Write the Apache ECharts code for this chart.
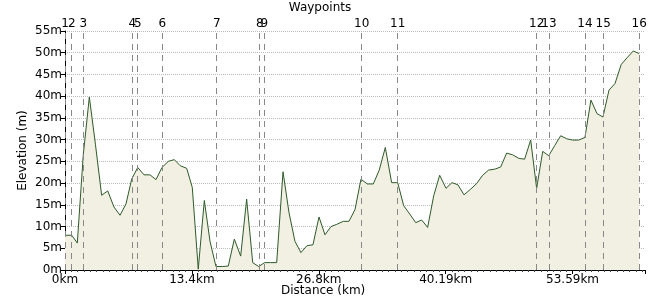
<!DOCTYPE html>
<html>
<head>
<meta charset="utf-8">
<script src="https://cdn.jsdelivr.net/npm/echarts@6/dist/echarts.min.js"></script>
<style>html,body{margin:0;padding:0;background:#fff}#c{width:650px;height:300px}</style>
</head>
<body>
<div id="c"></div>
<script>
const distanceKm = [0,0.71,1.30,1.93,2.57,3.22,3.87,4.51,5.17,5.81,6.44,7.04,7.68,8.34,8.97,9.61,10.24,10.91,11.54,12.17,12.85,13.44,14.07,14.71,15.31,15.94,16.61,17.24,17.88,18.55,19.18,19.82,20.45,21.08,21.72,22.35,23.02,23.65,24.28,24.91,25.55,26.18,26.82,27.45,28.09,28.69,29.38,29.98,30.62,31.25,31.92,32.55,33.18,33.82,34.49,35.13,35.76,36.39,37.03,37.66,38.29,38.93,39.56,40.23,40.86,41.49,42.13,42.83,43.47,44.10,44.73,45.37,46.00,46.63,47.27,47.90,48.53,49.17,49.80,50.44,51.07,51.70,52.34,52.97,53.60,54.24,54.90,55.53,56.17,56.80,57.44,58.07,58.73,59.37,60.00,60.63];
const elevationM = [8.0,8.0,6.2,26.5,39.8,28.8,17.2,18.2,14.5,12.6,15.2,20.9,23.6,21.9,21.9,20.8,23.6,25.0,25.4,24.0,23.4,19.0,0.2,16.0,6.6,0.8,0.8,0.9,7.1,3.2,16.3,1.7,0.8,1.7,1.7,1.7,22.6,13.2,6.6,4.0,5.6,5.8,12.2,8.1,10.0,10.5,11.2,11.2,13.9,20.9,19.8,19.8,23.0,28.2,20.1,20.1,14.8,12.9,10.9,11.5,9.8,17.1,21.8,18.8,20.1,19.6,17.3,18.6,19.9,21.8,23.0,23.2,23.7,26.9,26.5,25.7,25.5,29.9,18.8,27.3,26.3,28.6,30.9,30.2,29.9,29.9,30.5,39.1,36.0,35.2,41.4,42.9,47.3,48.9,50.4,49.8];
const waypointKm = [0,0.71,1.93,7.11,7.68,10.27,16.02,20.56,21.04,31.33,35.13,49.80,51.10,54.90,56.83,60.63];
const waypointLabels = ['1','2','3','4','5','6','7','8','9','10','11','12','13','14','15','16'];
const xTickInterval = 13.398;
const xMax = 61.24;
const yTickInterval = 5;
const yMax = 55;

const font = 'DejaVu Sans';
const chart = echarts.init(document.getElementById('c'), null, {renderer: 'canvas'});
const isMajor = v => Math.abs(v / xTickInterval - Math.round(v / xTickInterval)) < 1e-6;
chart.setOption({
  animation: false,
  title: {
    text: 'Waypoints', left: 315, top: -3, textAlign: 'center',
    textStyle: {fontFamily: font, fontSize: 12, fontWeight: 'normal', color: '#000'}
  },
  graphic: [{
    type: 'text', left: 281, top: 285,
    style: {text: 'Distance (km)', font: '12px "DejaVu Sans"', fill: '#000'}
  }],
  grid: {left: 65, right: 5, top: 31, bottom: 30, containLabel: false},
  xAxis: {
    type: 'value', min: 0, max: xMax, interval: xTickInterval,
    axisLine: {show: true, lineStyle: {color: '#000', width: 1}},
    axisTick: {show: true, length: 4, lineStyle: {color: '#000'}},
    minorTick: {show: true, splitNumber: 20, length: 2, lineStyle: {color: '#444'}},
    splitLine: {show: false},
    axisLabel: {
      fontFamily: font, fontSize: 12, color: '#000', margin: 4, showMaxLabel: false,
      formatter: v => isMajor(v) ? (Math.round(v * 100) / 100) + 'km' : ''
    }
  },
  yAxis: {
    type: 'value', min: 0, max: yMax, interval: yTickInterval,
    name: 'Elevation (m)', nameLocation: 'middle', nameGap: 36, nameMoveOverlap: false,
    nameTextStyle: {fontFamily: font, fontSize: 12, color: '#000'},
    axisLine: {show: true, lineStyle: {color: '#000', width: 1}},
    axisTick: {show: true, length: 4, lineStyle: {color: '#000'}},
    splitLine: {show: true, lineStyle: {color: '#bbb', type: 'dotted', width: 1}},
    axisLabel: {fontFamily: font, fontSize: 12, color: '#000', margin: 3, formatter: '{value}m'}
  },
  series: [{
    type: 'line',
    data: distanceKm.map((d, i) => [d, elevationM[i]]),
    symbol: 'none',
    lineStyle: {color: '#2f5a2a', width: 1},
    areaStyle: {color: '#f1f0e3', opacity: 1},
    z: 2,
    markLine: {
      silent: true, symbol: 'none', animation: false,
      lineStyle: {color: '#888', type: [6, 5], width: 1},
      label: {show: true, position: 'end', distance: 1, fontFamily: font, fontSize: 12, color: '#000'},
      data: waypointKm.map((v, i) => ({xAxis: v, label: {formatter: waypointLabels[i]}}))
    }
  }]
});
</script>
</body>
</html>
